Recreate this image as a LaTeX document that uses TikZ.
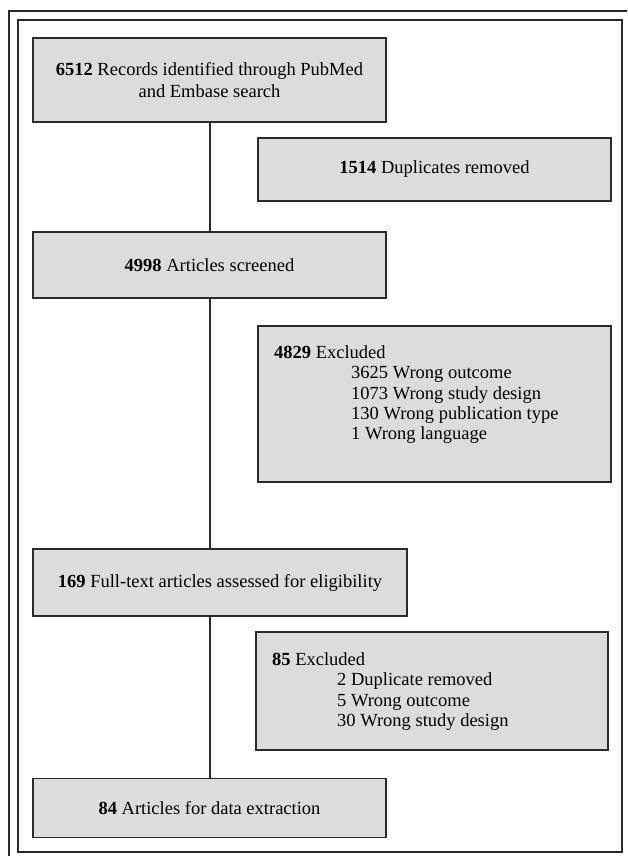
\documentclass[tikz,border=0pt]{standalone}
\usepackage{fontspec}
\setmainfont{Liberation Serif}
\definecolor{boxfill}{HTML}{DCDCDC}
\definecolor{boxline}{HTML}{2A2A2A}
\begin{document}
\begin{tikzpicture}[x=1pt,y=-1pt,
  box/.style={draw=boxline, line width=1.3pt, fill=boxfill, inner sep=0pt, align=center,
              font=\fontsize{18.5}{22}\selectfont},
  ltxt/.style={font=\fontsize{18.5}{20.3}\selectfont, inner sep=0pt, align=left, anchor=north west},
  frame/.style={draw=boxline, line width=1.3pt},
  link/.style={draw=boxline, line width=1.2pt}]
\useasboundingbox (0,0) rectangle (627,856);
\begin{scope}
\clip (0,0) rectangle (627,856);
\draw[frame] (9,11) rectangle (640,870);
\end{scope}
\draw[frame] (18,20) rectangle (622,852);
\coordinate (v) at (210,0);
\node[box, minimum width=353pt, minimum height=84pt] (b1) at (209.5,80)
  {\textbf{6512} Records identified through PubMed\\and Embase search};
\node[box, minimum width=353pt, minimum height=63pt] (b2) at (434.5,169.5)
  {\textbf{1514} Duplicates removed};
\node[box, minimum width=353pt, minimum height=66pt] (b3) at (209.5,265)
  {\textbf{4998} Articles screened};
\node[box, minimum width=353pt, minimum height=156pt] (b4) at (434.5,404) {};
\node[ltxt] (t4) at (274,345.6)
  {\textbf{4829} Excluded\\
   \hspace*{77pt}3625 Wrong outcome\\
   \hspace*{77pt}1073 Wrong study design\\
   \hspace*{77pt}130 Wrong publication type\\
   \hspace*{77pt}1 Wrong language};
\node[box, minimum width=374pt, minimum height=67pt] (b5) at (220,582.5)
  {\textbf{169} Full-text articles assessed for eligibility};
\node[box, minimum width=352pt, minimum height=118pt] (b6) at (432,691) {};
\node[ltxt] (t6) at (272,652.6)
  {\textbf{85} Excluded\\
   \hspace*{65pt}2 Duplicate removed\\
   \hspace*{65pt}5 Wrong outcome\\
   \hspace*{65pt}30 Wrong study design};
\node[box, minimum width=353pt, minimum height=59pt] (b7) at (209.5,808)
  {\textbf{84} Articles for data extraction};
\draw[link] (b1.south -| v) -- (b3.north -| v);
\draw[link] (b3.south -| v) -- (b5.north -| v);
\draw[link] (b5.south -| v) -- (b7.north -| v);
\end{tikzpicture}
\end{document}
